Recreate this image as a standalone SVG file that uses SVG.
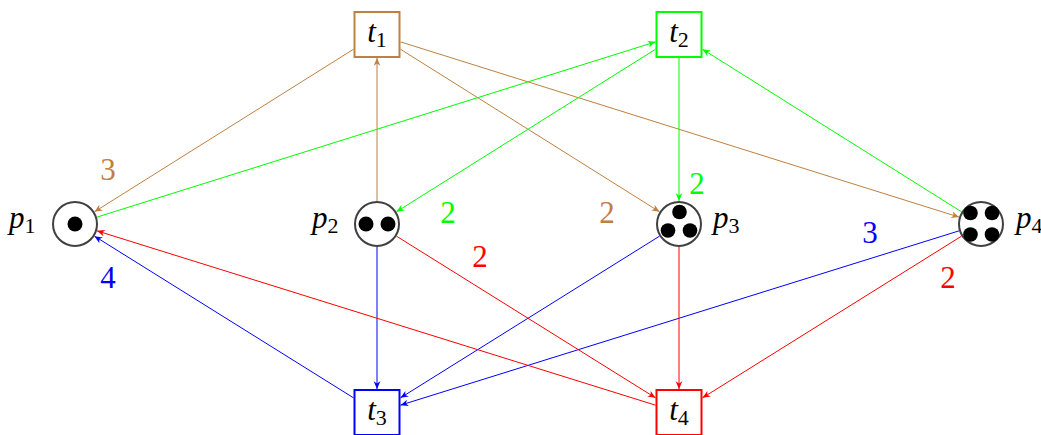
<svg xmlns="http://www.w3.org/2000/svg" width="1041" height="435" viewBox="0 0 1041 435" font-family="Liberation Serif">
<style>
text{font-size:31px}
.v{font-style:italic}
.place{fill:#fff;stroke:#404040;stroke-width:2}
.tok{fill:#000}
.tr{fill:#fff;stroke-width:2}
.arc{fill:none;stroke-width:1}
.br{stroke:#BF8040}.gr{stroke:#00FF00}.bl{stroke:#0000FF}.rd{stroke:#FF0000}
</style>
<defs>
<marker id="aB" markerUnits="userSpaceOnUse" orient="auto" markerWidth="10" markerHeight="10" refX="0" refY="0" viewBox="-8 -4 9 8" overflow="visible"><path d="M0,0 L-7,-3 L-5,0 L-7,3 Z" fill="#BF8040"/></marker>
<marker id="aG" markerUnits="userSpaceOnUse" orient="auto" markerWidth="10" markerHeight="10" refX="0" refY="0" viewBox="-8 -4 9 8" overflow="visible"><path d="M0,0 L-7,-3 L-5,0 L-7,3 Z" fill="#00FF00"/></marker>
<marker id="aL" markerUnits="userSpaceOnUse" orient="auto" markerWidth="10" markerHeight="10" refX="0" refY="0" viewBox="-8 -4 9 8" overflow="visible"><path d="M0,0 L-7,-3 L-5,0 L-7,3 Z" fill="#0000FF"/></marker>
<marker id="aR" markerUnits="userSpaceOnUse" orient="auto" markerWidth="10" markerHeight="10" refX="0" refY="0" viewBox="-8 -4 9 8" overflow="visible"><path d="M0,0 L-7,-3 L-5,0 L-7,3 Z" fill="#FF0000"/></marker>
</defs>
<g id="connectors">
<line class="arc br" x1="353.5" y1="49.25" x2="94.48" y2="211.77" marker-end="url(#aB)"/>
<line class="arc br" x1="377" y1="201" x2="377" y2="58" marker-end="url(#aB)"/>
<line class="arc br" x1="400.5" y1="49.25" x2="659.52" y2="211.77" marker-end="url(#aB)"/>
<line class="arc br" x1="400.5" y1="41.87" x2="959.05" y2="217.11" marker-end="url(#aB)"/>
<line class="arc gr" x1="96.95" y1="217.11" x2="655.5" y2="41.87" marker-end="url(#aG)"/>
<line class="arc gr" x1="655.5" y1="49.25" x2="396.48" y2="211.77" marker-end="url(#aG)"/>
<line class="arc gr" x1="679" y1="58" x2="679" y2="201" marker-end="url(#aG)"/>
<line class="arc gr" x1="961.52" y1="211.77" x2="702.5" y2="49.25" marker-end="url(#aG)"/>
<line class="arc bl" x1="377" y1="247" x2="377" y2="389" marker-end="url(#aL)"/>
<line class="arc bl" x1="659.49" y1="236.18" x2="400.5" y2="397.83" marker-end="url(#aL)"/>
<line class="arc bl" x1="959.04" y1="230.85" x2="400.5" y2="405.17" marker-end="url(#aL)"/>
<line class="arc bl" x1="353.5" y1="397.83" x2="94.51" y2="236.18" marker-end="url(#aL)"/>
<line class="arc rd" x1="396.51" y1="236.18" x2="655.5" y2="397.83" marker-end="url(#aR)"/>
<line class="arc rd" x1="679" y1="247" x2="679" y2="389" marker-end="url(#aR)"/>
<line class="arc rd" x1="961.49" y1="236.18" x2="702.5" y2="397.83" marker-end="url(#aR)"/>
<line class="arc rd" x1="655.5" y1="405.17" x2="96.96" y2="230.85" marker-end="url(#aR)"/>
</g>
<g id="weights">
<text x="108" y="180" text-anchor="middle" fill="#BF8040">3</text>
<text x="448" y="223" text-anchor="middle" fill="#00FF00">2</text>
<text x="607" y="223" text-anchor="middle" fill="#BF8040">2</text>
<text x="480" y="267" text-anchor="middle" fill="#FF0000">2</text>
<text x="697" y="194" text-anchor="middle" fill="#00FF00">2</text>
<text x="870" y="243" text-anchor="middle" fill="#0000FF">3</text>
<text x="948" y="288" text-anchor="middle" fill="#FF0000">2</text>
<text x="108" y="288" text-anchor="middle" fill="#0000FF">4</text>
</g>
<g id="p1">
<circle class="place" cx="75" cy="224" r="22"/>
<circle class="tok" cx="75" cy="224" r="7.5"/>
<text x="9" y="228"><tspan class="v">p</tspan><tspan dy="5" font-size="22">1</tspan></text>
</g>
<g id="p2">
<circle class="place" cx="377" cy="224" r="22"/>
<circle class="tok" cx="366" cy="224" r="7.5"/>
<circle class="tok" cx="388" cy="224" r="7.5"/>
<text x="312" y="228"><tspan class="v">p</tspan><tspan dy="5" font-size="22">2</tspan></text>
</g>
<g id="p3">
<circle class="place" cx="679" cy="224" r="22"/>
<circle class="tok" cx="679.5" cy="212" r="7.3"/>
<circle class="tok" cx="668" cy="230.5" r="7.3"/>
<circle class="tok" cx="690" cy="230.5" r="7.3"/>
<text x="713" y="228"><tspan class="v">p</tspan><tspan dy="5" font-size="22">3</tspan></text>
</g>
<g id="p4">
<circle class="place" cx="981" cy="224" r="22"/>
<circle class="tok" cx="970.5" cy="213" r="7.3"/>
<circle class="tok" cx="992" cy="213" r="7.3"/>
<circle class="tok" cx="970.5" cy="234.5" r="7.3"/>
<circle class="tok" cx="992" cy="234.5" r="7.3"/>
<text x="1016" y="228"><tspan class="v">p</tspan><tspan dy="5" font-size="22">4</tspan></text>
</g>
<g id="t1">
<rect class="tr" x="354.5" y="12" width="45" height="45" stroke="#BF8040"/>
<text x="377" y="42" text-anchor="middle"><tspan class="v">t</tspan><tspan dy="5" font-size="22">1</tspan></text>
</g>
<g id="t2">
<rect class="tr" x="656.5" y="12" width="45" height="45" stroke="#00FF00"/>
<text x="679" y="42" text-anchor="middle"><tspan class="v">t</tspan><tspan dy="5" font-size="22">2</tspan></text>
</g>
<g id="t3">
<rect class="tr" x="354.5" y="390" width="45" height="45" stroke="#0000FF"/>
<text x="377" y="420" text-anchor="middle"><tspan class="v">t</tspan><tspan dy="5" font-size="22">3</tspan></text>
</g>
<g id="t4">
<rect class="tr" x="656.5" y="390" width="45" height="45" stroke="#FF0000"/>
<text x="679" y="420" text-anchor="middle"><tspan class="v">t</tspan><tspan dy="5" font-size="22">4</tspan></text>
</g>
</svg>
